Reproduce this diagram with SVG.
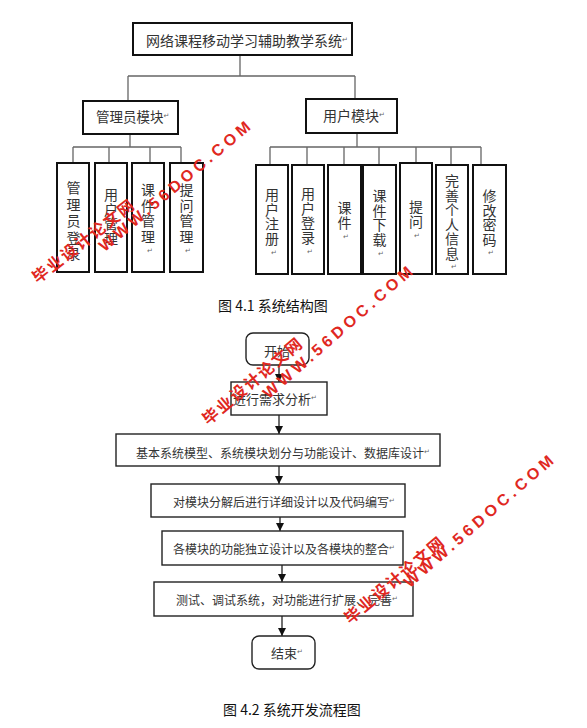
<svg xmlns="http://www.w3.org/2000/svg" width="587" height="728" viewBox="0 0 587 728">
<style>
.bx{fill:#fff;stroke:#111;stroke-width:2}
.fb{fill:#fff;stroke:#222;stroke-width:1.4}
.cn{fill:none;stroke:#666;stroke-width:1.3}
.ar{fill:none;stroke:#222;stroke-width:1.3}
.t{font-family:"Noto Sans CJK SC","Noto Sans",sans-serif;fill:#333;dominant-baseline:central}
.v{font-family:"Noto Sans CJK SC","Noto Sans",sans-serif;fill:#333;font-size:14px;writing-mode:vertical-rl;letter-spacing:0.5px}
.c13{font-size:13px}
.c12{font-size:12px}
.rm{font-family:"DejaVu Sans",sans-serif;font-size:7px;fill:#666;dominant-baseline:central}
.cap{font-family:"Noto Sans CJK SC","Noto Sans",sans-serif;font-size:14px;fill:#111;dominant-baseline:central}
.wm{font-family:"Liberation Sans","Noto Sans CJK SC",sans-serif;font-weight:bold;fill:#e0281f;text-anchor:middle;dominant-baseline:central}
</style>
<defs>
<marker id="ah" viewBox="0 0 8 8" refX="8" refY="4" markerWidth="8" markerHeight="8" markerUnits="userSpaceOnUse" orient="auto">
<path d="M0,0 L8,4 L0,8 Z" fill="#111"/>
</marker>
</defs>
<rect width="587" height="728" fill="#fff"/>

<g id="connectors">
<path class="cn" d="M240,55 V76 M128,76 H355 M128,76 V101 M355,76 V99"/>
<path class="cn" d="M130,134 V147 M73,147 H181 M73,147 V163 M109,147 V163 M150,147 V163 M181,147 V163"/>
<path class="cn" d="M357,133 V147 M270,147 H481 M270,147 V165 M307,147 V165 M344,147 V165 M379,147 V165 M416,147 V163 M451,147 V165 M481,147 V165"/>
<line class="ar" x1="279" y1="365" x2="279" y2="382" marker-end="url(#ah)"/>
<line class="ar" x1="279" y1="415" x2="279" y2="434" marker-end="url(#ah)"/>
<line class="ar" x1="279" y1="466" x2="279" y2="484" marker-end="url(#ah)"/>
<line class="ar" x1="280" y1="517" x2="280" y2="531" marker-end="url(#ah)"/>
<line class="ar" x1="282" y1="565" x2="282" y2="582" marker-end="url(#ah)"/>
<line class="ar" x1="282" y1="616" x2="282" y2="636" marker-end="url(#ah)"/>
</g>

<g id="root">
<rect class="bx" x="133" y="23" width="219" height="32"/>
<text class="t" x="146" y="40" font-size="14">网络课程移动学习辅助教学系统<tspan class="rm">↵</tspan></text>
</g>
<g id="admin">
<rect class="bx" x="83" y="101" width="95" height="33"/>
<text class="t" x="96" y="116" font-size="13.5">管理员模块<tspan class="rm">↵</tspan></text>
</g>
<g id="user">
<rect class="bx" x="306" y="99" width="91" height="34"/>
<text class="t" x="323" y="115" font-size="14">用户模块<tspan class="rm">↵</tspan></text>
</g>

<g id="a1"><rect class="bx" x="57" y="163" width="32" height="109"/>
<text class="v" x="73.5" y="181" style="letter-spacing:2.5px">管理员登录</text></g>
<g id="a2"><rect class="bx" x="95" y="163" width="32" height="109"/>
<text class="v" x="111" y="188">用户管理</text></g>
<g id="a3"><rect class="bx" x="132" y="163" width="32" height="109"/>
<text class="v" x="148" y="183" style="letter-spacing:1.5px">课件管理</text>
<text class="rm" x="147" y="251">↵</text></g>
<g id="a4"><rect class="bx" x="170" y="163" width="33" height="109"/>
<text class="v" x="186.5" y="183" style="letter-spacing:1.5px">提问管理</text>
<text class="rm" x="185" y="251">↵</text></g>

<g id="u1"><rect class="bx" x="256" y="165" width="32" height="109"/>
<text class="v" x="272" y="188">用户注册</text>
<text class="rm" x="271" y="253">↵</text></g>
<g id="u2"><rect class="bx" x="292" y="165" width="32" height="109"/>
<text class="v" x="308" y="187">用户登录</text>
<text class="rm" x="307" y="252">↵</text></g>
<g id="u3"><rect class="bx" x="328" y="165" width="33" height="109"/>
<text class="v" x="344.5" y="201">课件</text>
<text class="rm" x="343" y="237">↵</text></g>
<g id="u4"><rect class="bx" x="363" y="165" width="33" height="109"/>
<text class="v" x="379.5" y="189">课件下载</text>
<text class="rm" x="378" y="254">↵</text></g>
<g id="u5"><rect class="bx" x="400" y="163" width="32" height="111"/>
<text class="v" x="416" y="200">提问</text>
<text class="rm" x="414" y="236">↵</text></g>
<g id="u6"><rect class="bx" x="436" y="165" width="32" height="109"/>
<text class="v" x="452" y="174">完善个人信息</text>
<text class="rm" x="451" y="267">↵</text></g>
<g id="u7"><rect class="bx" x="473" y="165" width="33" height="109"/>
<text class="v" x="489.5" y="189">修改密码</text>
<text class="rm" x="488" y="253">↵</text></g>

<text class="cap" x="218" y="305">图 4.1  系统结构图</text>

<g id="start"><rect class="fb" x="246" y="333" width="63" height="32" rx="7"/>
<text class="t c13" x="277" y="350" text-anchor="middle">开始</text></g>
<g id="f1"><rect class="fb" x="231" y="382" width="96" height="33"/>
<text class="t c13" x="233" y="398">进行需求分析<tspan class="rm">↵</tspan></text></g>
<g id="f2"><rect class="fb" x="116" y="434" width="324" height="32"/>
<text class="t c12" x="136" y="452">基本系统模型、系统模块划分与功能设计、数据库设计<tspan class="rm">↵</tspan></text></g>
<g id="f3"><rect class="fb" x="151" y="484" width="254" height="33"/>
<text class="t c12" x="173" y="501">对模块分解后进行详细设计以及代码编写<tspan class="rm">↵</tspan></text></g>
<g id="f4"><rect class="fb" x="162" y="531" width="241" height="34"/>
<text class="t c12" x="173" y="548">各模块的功能独立设计以及各模块的整合<tspan class="rm">↵</tspan></text></g>
<g id="f5"><rect class="fb" x="154" y="582" width="259" height="34"/>
<text class="t c12" x="176" y="599">测试、调试系统，对功能进行扩展、完善<tspan class="rm">↵</tspan></text></g>
<g id="end"><rect class="fb" x="252" y="636" width="63" height="33" rx="7"/>
<text class="t c13" x="271" y="652">结束<tspan class="rm">↵</tspan></text></g>

<text class="cap" x="223" y="709">图 4.2 系统开发流程图</text>

<g id="watermarks">
<text class="wm" font-size="16" letter-spacing="2" transform="translate(84,241) rotate(-38)">毕业设计论文网</text>
<text class="wm" font-size="16" letter-spacing="4" transform="translate(176,185) rotate(-40)">WWW.56DOC.COM</text>
<text class="wm" font-size="16" letter-spacing="2" transform="translate(253,381) rotate(-40)">毕业设计论文网</text>
<text class="wm" font-size="16" letter-spacing="4" transform="translate(339,331) rotate(-41)">WWW.56DOC.COM</text>
<text class="wm" font-size="16" letter-spacing="2" transform="translate(395,580) rotate(-40)">毕业设计论文网</text>
<text class="wm" font-size="16" letter-spacing="4" transform="translate(480,520) rotate(-41)">WWW.56DOC.COM</text>
</g>
</svg>
